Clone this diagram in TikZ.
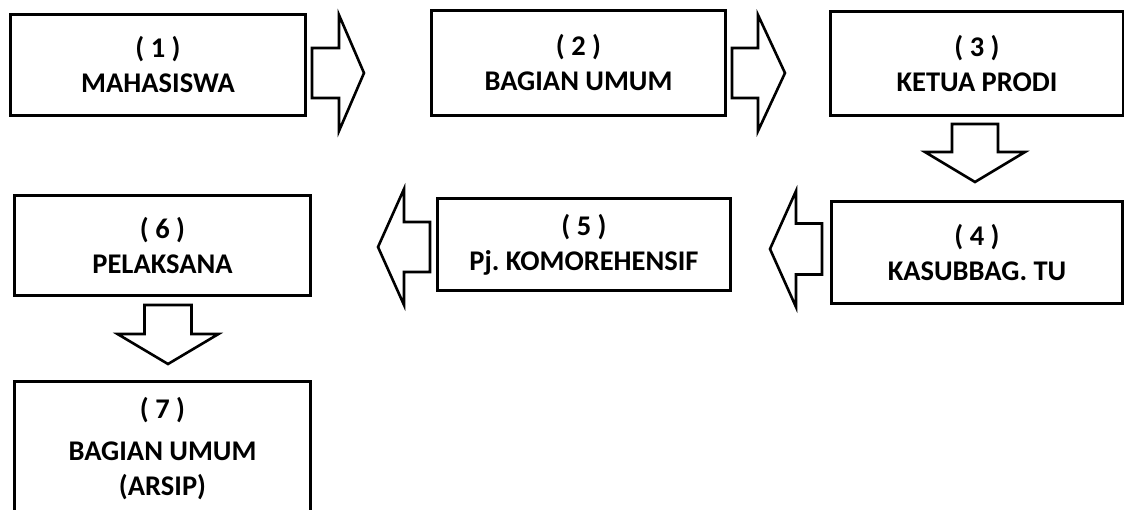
\documentclass[tikz,border=0pt]{standalone}
\usepackage{fontspec}
\setmainfont{Carlito}
\frenchspacing
\begin{document}
\begin{tikzpicture}[x=1pt,y=-1pt,
  box/.style={draw, line width=3.2pt, rectangle, inner sep=0pt, outer sep=0pt,
    align=center, font=\fontsize{28.5}{35}\selectfont\bfseries},
  blk/.style={draw, line width=2.6pt, fill=white, line join=miter}]
\useasboundingbox (0,0) rectangle (1124,509);
\clip (0,0) rectangle (1124,509);
\fill[white] (0,0) rectangle (1124,509);
% horizontal block arrow: tail x, base x, tip x, centre y, shaft half, head half
\newcommand\harr[6]{%
  \draw[blk] (#1,#4-#5) -- (#2,#4-#5) -- (#2,#4-#6) -- (#3,#4) -- (#2,#4+#6)
    -- (#2,#4+#5) -- (#1,#4+#5) -- cycle;}
% vertical block arrow: tail y, base y, tip y, centre x, shaft half, head half
\newcommand\varr[6]{%
  \draw[blk] (#4-#5,#1) -- (#4-#5,#2) -- (#4-#6,#2) -- (#4,#3) -- (#4+#6,#2)
    -- (#4+#5,#2) -- (#4+#5,#1) -- cycle;}

\node[box, minimum width=295pt, minimum height=101pt] (b1) at (158,65) {( 1 )\\MAHASISWA};
\node[box, minimum width=294pt, minimum height=105pt] (b2) at (578.5,63) {( 2 )\\BAGIAN UMUM};
\node[box, minimum width=293pt, minimum height=104pt] (b3) at (977,63.5) {( 3 )\\KETUA PRODI};
\node[box, minimum width=291pt, minimum height=102pt] (b4) at (977,252.5) {( 4 )\\KASUBBAG. TU};
\node[box, minimum width=293pt, minimum height=92pt] (b5) at (584,244.5) {( 5 )\\Pj. KOMOREHENSIF};
\node[box, minimum width=296pt, minimum height=100pt] (b6) at (162.5,245.5) {( 6 )\\PELAKSANA};
\node[box, minimum width=296pt, minimum height=134pt] (b7) at (162.5,448.5) {( 7 )\\[7pt]BAGIAN UMUM\\(ARSIP)};

\harr{312}{339}{364}{73}{25}{58}
\harr{732}{758}{785}{73}{25}{58}
\varr{124}{152}{182}{975}{23}{50}
\harr{822}{796}{770}{249}{25.5}{58}
\harr{430}{404}{378}{247}{25}{58}
\varr{305}{334}{364}{168}{23.5}{50.5}
\end{tikzpicture}
\end{document}
